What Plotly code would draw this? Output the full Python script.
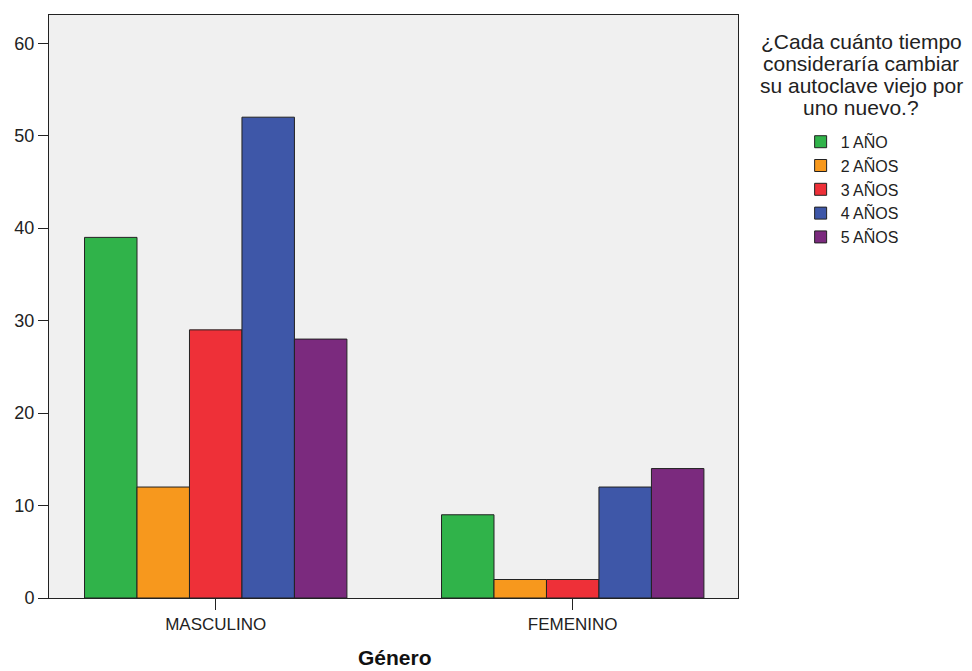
import plotly.graph_objects as go

categories = ["MASCULINO", "FEMENINO"]
series_names = ["1 AÑO", "2 AÑOS", "3 AÑOS", "4 AÑOS", "5 AÑOS"]
values_1 = [39, 9]
values_2 = [12, 2]
values_3 = [29, 2]
values_4 = [52, 12]
values_5 = [28, 14]
colors = ["#30B34A", "#F7981D", "#EE3038", "#3E57A8", "#7B2A7E"]
y_ticks = [0, 10, 20, 30, 40, 50, 60]
legend_title_lines = ["¿Cada cuánto tiempo", "consideraría cambiar",
                      "su autoclave viejo por", "uno nuevo.?"]

all_values = [values_1, values_2, values_3, values_4, values_5]

# page body has an 8px margin; plot area in window pixels: x 45..738, y 14..598
W, H = 964, 663
L, T, PW, PH = 37, 6, 693, 584
R = W - L - PW
B = H - T - PH


def px_x(x):
    return (x - 8 - L) / PW


def px_y(y):
    return (T + PH - (y - 8)) / PH


fig = go.Figure()
for i, (name, vals, col) in enumerate(zip(series_names, all_values, colors)):
    fig.add_trace(go.Bar(
        x=categories, y=vals, name=name,
        marker=dict(color=col, line=dict(color="#222222", width=1)),
        legendgroup=f"g{i}",
    ))

font_family = "Liberation Sans, Arial, sans-serif"

annotations = []
for k, line in enumerate(legend_title_lines):
    annotations.append(dict(
        text=line, xref="paper", yref="paper",
        x=px_x(862), y=px_y(41 + 22 * k), xanchor="center", yanchor="middle",
        showarrow=False, font=dict(size=21, color="#222222", family=font_family),
    ))
annotations.append(dict(
    text="<b>Género</b>", xref="paper", yref="paper",
    x=px_x(393), y=px_y(658), xanchor="center", yanchor="middle",
    showarrow=False, font=dict(size=21, color="#111111", family=font_family),
))

fig.update_layout(
    width=W, height=H,
    margin=dict(l=L, r=R, t=T, b=B),
    paper_bgcolor="white",
    plot_bgcolor="#F0F0F0",
    barmode="group",
    bargap=0.265,
    bargroupgap=0,
    font=dict(family=font_family, size=17, color="#222222"),
    showlegend=True,
    legend=dict(
        x=px_x(801), y=px_y(124), xanchor="left", yanchor="top",
        traceorder="grouped", tracegroupgap=0,
        font=dict(size=16, color="#222222"),
        bgcolor="rgba(0,0,0,0)",
        itemwidth=30,
    ),
    xaxis=dict(
        type="category",
        range=[-0.467, 1.463],
        showline=True, linecolor="#222222", linewidth=1, mirror=True,
        ticks="outside", ticklen=11, tickcolor="#222222",
        showgrid=False,
        tickfont=dict(size=17),
    ),
    yaxis=dict(
        range=[0, 63.05],
        tickvals=y_ticks,
        showline=True, linecolor="#222222", linewidth=1, mirror=True,
        ticks="outside", ticklen=10, tickcolor="#222222",
        showgrid=False, zeroline=False,
        tickfont=dict(size=18),
    ),
    annotations=annotations,
)

fig.write_html("out.html")
